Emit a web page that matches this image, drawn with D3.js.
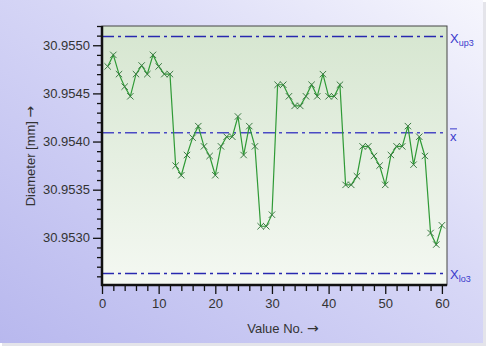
<!DOCTYPE html>
<html>
<head>
<meta charset="utf-8">
<script src="https://cdn.jsdelivr.net/npm/d3@7"></script>
<style>
  body { margin: 0; background: #fff; }
  svg { display: block; font-family: "Liberation Sans", Arial, sans-serif; }
</style>
</head>
<body>
<div id="chart"></div>
<script>
// measured values (value no. 1..60)
var valueNo = d3.range(1, 61);
var diameter = [
  30.95478, 30.95490, 30.95470, 30.95457, 30.95447, 30.95470, 30.95479, 30.95470, 30.95490, 30.95478,
  30.95470, 30.95470, 30.95375, 30.95365, 30.95386, 30.95404, 30.95416, 30.95395, 30.95385, 30.95365,
  30.95395, 30.95405, 30.95405, 30.95426, 30.95386, 30.95416, 30.95395, 30.95312, 30.95312, 30.95324,
  30.95459, 30.95459, 30.95447, 30.95437, 30.95437, 30.95447, 30.95459, 30.95447, 30.95470, 30.95447,
  30.95447, 30.95459, 30.95355, 30.95355, 30.95364, 30.95395, 30.95395, 30.95385, 30.95375, 30.95355,
  30.95386, 30.95395, 30.95395, 30.95416, 30.95376, 30.95405, 30.95385, 30.95305, 30.95293, 30.95313
];
// control limits
var limitNames = ["up3", "mean", "lo3"];
var limitValues = [30.95509, 30.95409, 30.95263];
// tick labels
var yTickValues = [30.9530, 30.9535, 30.9540, 30.9545, 30.9550];
var xTickValues = [0, 10, 20, 30, 40, 50, 60];

var W = 490, H = 347;
var plot = {left: 102, right: 447, top: 26, bottom: 285};

var svg = d3.select("#chart").append("svg")
    .attr("width", W)
    .attr("height", H);

var defs = svg.append("defs");
var bg = defs.append("linearGradient").attr("id", "bg")
    .attr("x1", "0").attr("y1", "1").attr("x2", "1").attr("y2", "0");
bg.append("stop").attr("offset", "0").attr("stop-color", "#b8b8ee");
bg.append("stop").attr("offset", "0.55").attr("stop-color", "#d6d6f6");
bg.append("stop").attr("offset", "1").attr("stop-color", "#f6f6fd");

var pg = defs.append("linearGradient").attr("id", "pg")
    .attr("x1", "0").attr("y1", "0").attr("x2", "0").attr("y2", "1");
pg.append("stop").attr("offset", "0").attr("stop-color", "#d6e6d0");
pg.append("stop").attr("offset", "1").attr("stop-color", "#f4f8f2");

// panel background with a light shadow
svg.append("rect").attr("x", 2).attr("y", 2).attr("width", 484).attr("height", 344)
    .attr("fill", "#e4e4ea");
svg.append("rect").attr("x", 0).attr("y", 0).attr("width", 483).attr("height", 343)
    .attr("fill", "url(#bg)");

var x = d3.scaleLinear().domain([0, 60.9]).range([plot.left, plot.right]);
var y = d3.scaleLinear().domain([30.95251, 30.95520]).range([plot.bottom, plot.top]);

// plot area
svg.append("rect")
    .attr("x", plot.left).attr("y", plot.top)
    .attr("width", plot.right - plot.left).attr("height", plot.bottom - plot.top)
    .attr("fill", "url(#pg)")
    .attr("stroke", "#444").attr("stroke-width", 1);

// control lines
svg.selectAll(".limit")
    .data(limitValues)
  .enter().append("line")
    .attr("class", "limit")
    .attr("x1", plot.left).attr("x2", plot.right)
    .attr("y1", function(d) { return y(d); })
    .attr("y2", function(d) { return y(d); })
    .attr("stroke", function(d, i) { return i == 1 ? "#4a4ac4" : "#2828b0"; })
    .attr("stroke-width", 1.5)
    .attr("stroke-dasharray", "12,4,3,4");

// data line
var line = d3.line()
    .x(function(d, i) { return x(valueNo[i]); })
    .y(function(d) { return y(d); });

svg.append("path")
    .datum(diameter)
    .attr("d", line)
    .attr("fill", "none")
    .attr("stroke", "#2f9a36")
    .attr("stroke-width", 1.2);

// x markers
var s = 3.2;
svg.selectAll(".mark")
    .data(diameter)
  .enter().append("path")
    .attr("class", "mark")
    .attr("d", function(d, i) {
      var cx = x(valueNo[i]), cy = y(d);
      return "M" + (cx - s) + "," + (cy - s) + "L" + (cx + s) + "," + (cy + s) +
             "M" + (cx - s) + "," + (cy + s) + "L" + (cx + s) + "," + (cy - s);
    })
    .attr("stroke", "#3c7c44")
    .attr("stroke-width", 1);

// Y axis
var yMinor = d3.range(30.9526, 30.95521, 0.0001).filter(function(v) {
  return yTickValues.every(function(t) { return Math.abs(t - v) > 1e-7; });
});
svg.append("g")
    .attr("transform", "translate(" + plot.left + ",0)")
    .call(d3.axisLeft(y).tickValues(yMinor).tickSize(5).tickFormat(""))
    .call(function(g) { g.select(".domain").remove(); });
svg.append("g")
    .attr("transform", "translate(" + plot.left + ",0)")
    .call(d3.axisLeft(y).tickValues(yTickValues).tickSize(9).tickPadding(3)
        .tickFormat(d3.format(".4f")))
    .call(function(g) {
      g.select(".domain").remove();
      g.selectAll("text").attr("font-size", 13).attr("fill", "#333")
          .attr("font-family", "Liberation Sans, Arial, sans-serif");
    });

// X axis
var xMinor = d3.range(2, 61, 2).filter(function(v) { return v % 10 != 0; });
svg.append("g")
    .attr("transform", "translate(0," + plot.bottom + ")")
    .call(d3.axisBottom(x).tickValues(xMinor).tickSize(6).tickFormat(""))
    .call(function(g) { g.select(".domain").remove(); });
svg.append("g")
    .attr("transform", "translate(0," + plot.bottom + ")")
    .call(d3.axisBottom(x).tickValues(xTickValues).tickSize(9).tickPadding(5))
    .call(function(g) {
      g.select(".domain").remove();
      g.selectAll("text").attr("font-size", 13).attr("fill", "#333")
          .attr("font-family", "Liberation Sans, Arial, sans-serif");
    });
svg.selectAll(".tick line").attr("stroke", "#111").attr("stroke-width", 1.3);

// thick axis lines
svg.append("line").attr("x1", plot.left).attr("x2", plot.left)
    .attr("y1", plot.top).attr("y2", plot.bottom + 1)
    .attr("stroke", "#111").attr("stroke-width", 2.5);
svg.append("line").attr("x1", plot.left - 1).attr("x2", plot.right)
    .attr("y1", plot.bottom).attr("y2", plot.bottom)
    .attr("stroke", "#111").attr("stroke-width", 2.5);

// limit labels
var lab = svg.append("g").attr("fill", "#3a3acc").attr("font-size", 13);
var tUp = lab.append("text").attr("x", plot.right + 3).attr("y", y(limitValues[0]) + 6);
tUp.append("tspan").text("X");
tUp.append("tspan").attr("font-size", 9).attr("dy", 3).text("up3");
var tLo = lab.append("text").attr("x", plot.right + 3).attr("y", y(limitValues[2]) + 6);
tLo.append("tspan").text("X");
tLo.append("tspan").attr("font-size", 9).attr("dy", 3).text("lo3");
lab.append("text").attr("x", plot.right + 3).attr("y", y(limitValues[1]) + 8)
    .text("x");
lab.append("line")
    .attr("x1", plot.right + 3).attr("x2", plot.right + 10)
    .attr("y1", y(limitValues[1]) - 4).attr("y2", y(limitValues[1]) - 4)
    .attr("stroke", "#3a3acc").attr("stroke-width", 1);

// axis titles
var xt = svg.append("text")
    .attr("x", 283).attr("y", 333)
    .attr("text-anchor", "middle")
    .attr("font-size", 13).attr("fill", "#333");
xt.append("tspan").text("Value No. ");
xt.append("tspan").attr("font-family", "DejaVu Sans").attr("font-size", 14).text("\u2192");
var yt = svg.append("text")
    .attr("transform", "translate(35,156) rotate(-90)")
    .attr("text-anchor", "middle")
    .attr("font-size", 13).attr("fill", "#333");
yt.append("tspan").text("Diameter [mm] ");
yt.append("tspan").attr("font-family", "DejaVu Sans").attr("font-size", 14).text("\u2192");
</script>
</body>
</html>
